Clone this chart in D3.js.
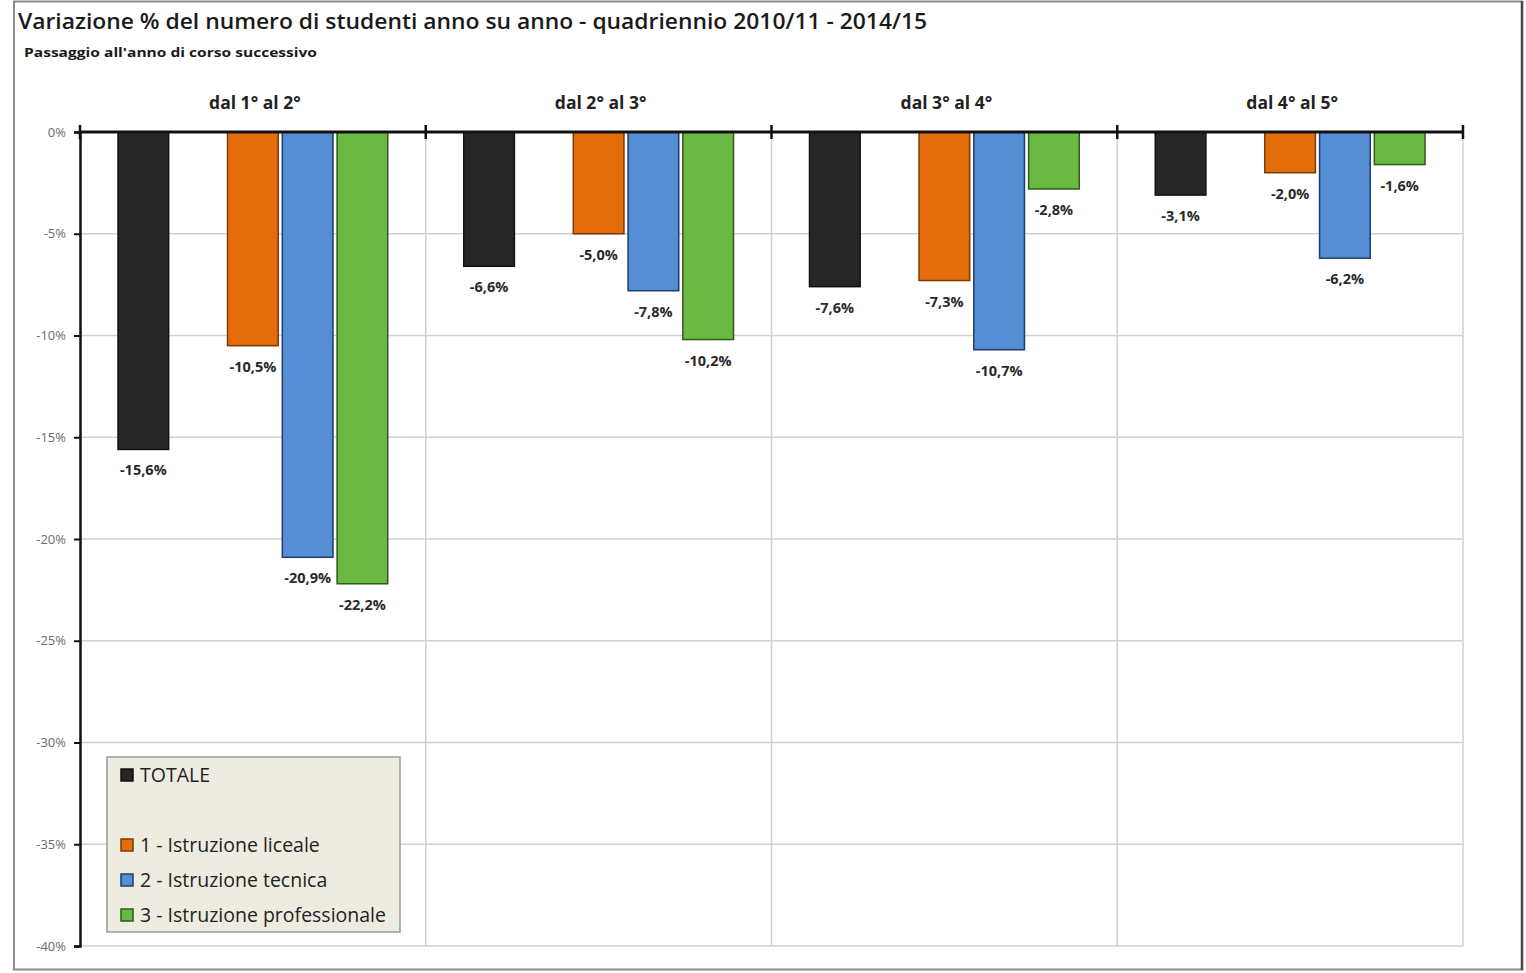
<!DOCTYPE html>
<html>
<head>
<meta charset="utf-8">
<script src="https://cdn.jsdelivr.net/npm/d3@7"></script>
<style>
  html, body { margin: 0; padding: 0; background: #ffffff; }
  svg { display: block; }
</style>
</head>
<body>
<svg id="chart" width="1526" height="973"></svg>
<script>
// Passage to the next school year, four transitions
const groups = ["dal 1° al 2°", "dal 2° al 3°", "dal 3° al 4°", "dal 4° al 5°"];
// Series order as laid out in each group (the empty slot keeps the gap after TOTALE)
const seriesNames = ["TOTALE", "", "1 - Istruzione liceale", "2 - Istruzione tecnica", "3 - Istruzione professionale"];
const totale        = [-15.6, -6.6, -7.6, -3.1];
const liceale       = [-10.5, -5.0, -7.3, -2.0];
const tecnica       = [-20.9, -7.8, -10.7, -6.2];
const professionale = [-22.2, -10.2, -2.8, -1.6];
const yTicks = [0, -5, -10, -15, -20, -25, -30, -35, -40];

const seriesValues = {
  "TOTALE": totale,
  "1 - Istruzione liceale": liceale,
  "2 - Istruzione tecnica": tecnica,
  "3 - Istruzione professionale": professionale
};
const fills = {
  "TOTALE": "#262626",
  "1 - Istruzione liceale": "#E46C0A",
  "2 - Istruzione tecnica": "#558ED5",
  "3 - Istruzione professionale": "#6AB943"
};
const strokes = {
  "TOTALE": "#111111",
  "1 - Istruzione liceale": "#7a3a08",
  "2 - Istruzione tecnica": "#1f3d66",
  "3 - Istruzione professionale": "#2f5a1c"
};

const FONT = "'Open Sans', 'Noto Sans', sans-serif";
const svg = d3.select("#chart");
const plot = { left: 80, right: 1463, top: 132, bottom: 946 };

// outer frame
svg.append("rect")
  .attr("x", 14).attr("y", 1.5).attr("width", 1508).attr("height", 968)
  .attr("fill", "#ffffff").attr("stroke", "#8c8c8c").attr("stroke-width", 2);
svg.append("line")
  .attr("x1", 1522).attr("x2", 1522).attr("y1", 1).attr("y2", 970)
  .attr("stroke", "#444").attr("stroke-width", 2.5);

// titles
svg.append("text")
  .attr("x", 18).attr("y", 29)
  .attr("font-family", FONT)
  .attr("font-size", 21).attr("font-weight", 600).attr("fill", "#1a1a1a")
  .attr("textLength", 909).attr("lengthAdjust", "spacingAndGlyphs")
  .text("Variazione % del numero di studenti anno su anno - quadriennio 2010/11 - 2014/15");
svg.append("text")
  .attr("x", 24).attr("y", 57)
  .attr("font-family", FONT)
  .attr("font-size", 12).attr("font-weight", 700).attr("fill", "#1a1a1a")
  .attr("textLength", 293).attr("lengthAdjust", "spacingAndGlyphs")
  .text("Passaggio all'anno di corso successivo");

const x0 = d3.scaleBand().domain(groups).range([plot.left, plot.right]).padding(0);
const x1 = d3.scaleBand().domain(seriesNames)
  .range([38, x0.bandwidth() - 38]).paddingInner(0.075).paddingOuter(0);
const y = d3.scaleLinear().domain([0, -40]).range([plot.top, plot.bottom]);

// horizontal gridlines
svg.append("g").selectAll("line").data(yTicks.filter(d => d !== 0)).join("line")
  .attr("x1", plot.left).attr("x2", plot.right)
  .attr("y1", d => y(d)).attr("y2", d => y(d))
  .attr("stroke", "#d0d0d0").attr("stroke-width", 1.5);

// vertical gridlines at group boundaries
const bounds = groups.map(g => x0(g)).concat([plot.right]);
svg.append("g").selectAll("line").data(bounds.slice(1)).join("line")
  .attr("x1", d => d).attr("x2", d => d)
  .attr("y1", plot.top).attr("y2", plot.bottom)
  .attr("stroke", "#d0d0d0").attr("stroke-width", 1.5);

// y axis
const yAxis = d3.axisLeft(y).tickValues(yTicks).tickSize(6).tickPadding(8)
  .tickFormat(d => String(d).replace("\u2212", "-") + "%");
const gy = svg.append("g").attr("transform", `translate(${plot.left},0)`).call(yAxis);
gy.select(".domain").attr("stroke", "#111").attr("stroke-width", 2.5);
gy.selectAll(".tick line").attr("stroke", "#111").attr("stroke-width", 2);
gy.selectAll(".tick text")
  .attr("font-family", FONT)
  .attr("font-size", 13).attr("fill", "#6b6b6b");

// value labels use a plain hyphen and a decimal comma
const fmtLabel = v => v.toFixed(1).replace(".", ",") + "%";

// bars
const barSeries = seriesNames.filter(s => s !== "");
const gBars = svg.append("g");
groups.forEach((g, gi) => {
  barSeries.forEach(s => {
    const v = seriesValues[s][gi];
    const bx = x0(g) + x1(s);
    gBars.append("rect")
      .attr("x", bx).attr("y", y(0))
      .attr("width", x1.bandwidth()).attr("height", y(v) - y(0))
      .attr("fill", fills[s]).attr("stroke", strokes[s]).attr("stroke-width", 1.5);
    gBars.append("text")
      .attr("x", bx + x1.bandwidth() / 2).attr("y", y(v) + 26)
      .attr("text-anchor", "middle")
      .attr("font-family", FONT)
      .attr("font-size", 14.5).attr("font-weight", 700).attr("fill", "#2a2a2a")
      .text(fmtLabel(v));
  });
});

// x axis along 0% with ticks at group boundaries
const xAxisG = svg.append("g");
xAxisG.append("line")
  .attr("x1", plot.left).attr("x2", plot.right)
  .attr("y1", y(0)).attr("y2", y(0))
  .attr("stroke", "#111").attr("stroke-width", 3);
xAxisG.selectAll("line.tk").data(bounds).join("line").attr("class", "tk")
  .attr("x1", d => d).attr("x2", d => d)
  .attr("y1", y(0) - 7).attr("y2", y(0) + 7)
  .attr("stroke", "#111").attr("stroke-width", 2.5);

// group labels
svg.append("g").selectAll("text").data(groups).join("text")
  .attr("x", d => x0(d) + x0.bandwidth() / 2 + 2)
  .attr("y", 109)
  .attr("text-anchor", "middle")
  .attr("font-family", FONT)
  .attr("font-size", 17.5).attr("font-weight", 700).attr("fill", "#222")
  .text(d => d);

// legend
const lg = svg.append("g").attr("transform", "translate(107,757)");
lg.append("rect").attr("width", 293).attr("height", 175)
  .attr("fill", "#EEECE1").attr("stroke", "#9a9a9a").attr("stroke-width", 1.5);
const legendRows = [
  { name: "TOTALE", dy: 18 },
  { name: "1 - Istruzione liceale", dy: 88 },
  { name: "2 - Istruzione tecnica", dy: 123 },
  { name: "3 - Istruzione professionale", dy: 158 }
];
legendRows.forEach(r => {
  lg.append("rect").attr("x", 14).attr("y", r.dy - 6).attr("width", 12).attr("height", 12)
    .attr("fill", fills[r.name]).attr("stroke", strokes[r.name]).attr("stroke-width", 1.5);
  lg.append("text").attr("x", 33).attr("y", r.dy + 6.5)
    .attr("font-family", FONT)
    .attr("font-size", 19.5).attr("fill", "#222")
    .text(r.name);
});
</script>
</body>
</html>
